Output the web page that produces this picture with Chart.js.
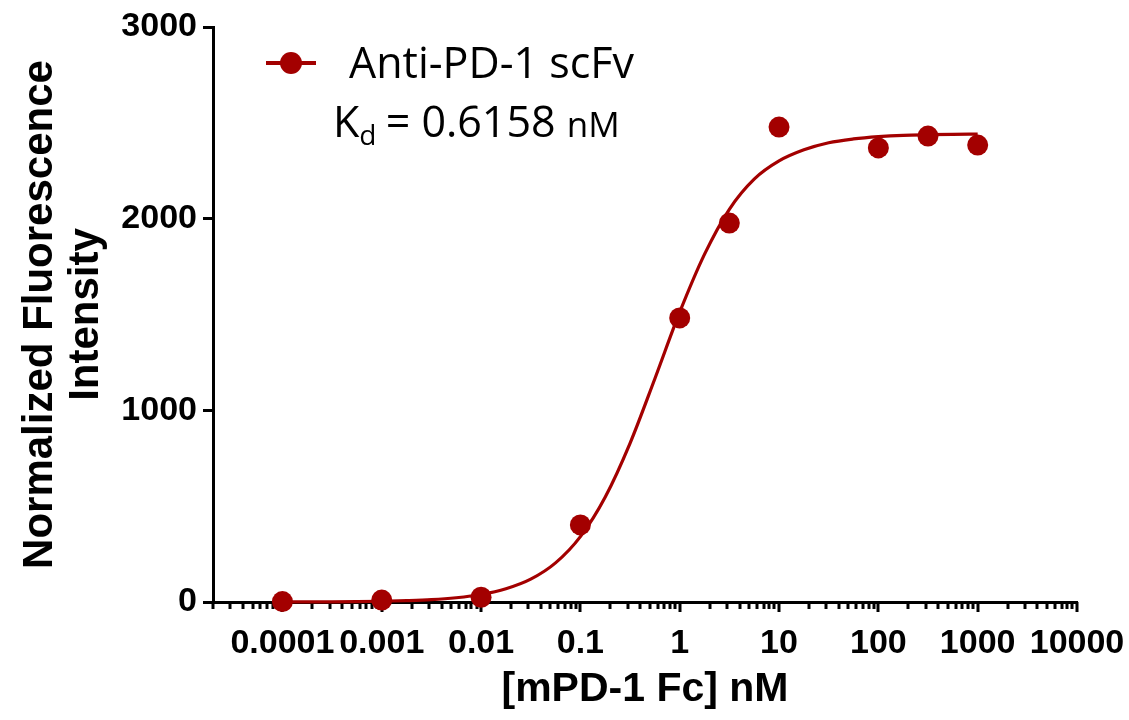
<!DOCTYPE html>
<html><head><meta charset="utf-8">
<script src="https://cdn.jsdelivr.net/npm/chart.js@4.4.1/dist/chart.umd.min.js"></script>
<style>html,body{margin:0;padding:0;background:#fff;}#wrap{width:1129px;height:720px;}</style>
</head><body><div id="wrap"><canvas id="c" width="1129" height="720"></canvas></div>
<script>
// ---- data ----
const seriesName = 'Anti-PD-1 scFv';
const concentrations = [0.0001, 0.001, 0.01, 0.1, 1, 3.16, 10, 100, 316, 1000];
const intensities    = [2, 10, 25, 402, 1482, 1977, 2478, 2369, 2431, 2384];
const fitConcentrations = [0.0001, 0.000178, 0.000316, 0.000562, 0.001, 0.00178, 0.00316, 0.00562,
  0.01, 0.0178, 0.0316, 0.0562, 0.1, 0.178, 0.316, 0.562, 1, 1.78, 3.16, 5.62,
  10, 17.8, 31.6, 56.2, 100, 178, 316, 562, 1000];
const fitIntensities = [0, 1, 1, 2, 4, 7, 12, 22,
  39, 69, 119, 204, 341, 548, 828, 1165, 1512, 1815, 2049, 2206,
  2301, 2359, 2396, 2416, 2428, 2435, 2438, 2440, 2441];
const xTickValues = [0.0001, 0.001, 0.01, 0.1, 1, 10, 100, 1000, 10000];
const xTickLabels = ['0.0001', '0.001', '0.01', '0.1', '1', '10', '100', '1000', '10000'];
const yTickValues = [0, 1000, 2000, 3000];
const yTickLabels = ['0', '1000', '2000', '3000'];
const xTitle = '[mPD-1 Fc] nM';
const yTitle = ['Normalized Fluorescence', 'Intensity'];
const kdSymbol = 'K', kdSub = 'd', kdValue = ' = 0.6158 ', kdUnit = 'nM';
const xMin = 0.00002, xMax = 10000, yMin = 0, yMax = 3000;

const RED = '#A30000';
const BOLD = '"Liberation Sans", Arial, sans-serif';
const REG = '"Open Sans", "Liberation Sans", sans-serif';

const minorTicks = {
  id: 'minorTicks',
  beforeDatasetsDraw(chart) {
    const ctx = chart.ctx, xs = chart.scales.x, y0 = xs.top;
    ctx.save();
    ctx.strokeStyle = '#000';
    for (let e = -5; e <= 4; e++) {
      for (let k = 1; k <= 9; k++) {
        const v = k * Math.pow(10, e);
        if (v < xMin * 0.999 || v > xMax * 1.001) continue;
        const px = Math.round(xs.getPixelForValue(v));
        const major = k === 1;
        ctx.lineWidth = 3;
        ctx.beginPath();
        ctx.moveTo(px, y0);
        ctx.lineTo(px, y0 + (major ? 10 : 7));
        ctx.stroke();
      }
    }
    ctx.restore();
  }
};

const legendAndKd = {
  id: 'legendAndKd',
  afterDraw(chart) {
    const ctx = chart.ctx;
    const ds = chart.data.datasets[0];
    ctx.save();
    ctx.strokeStyle = ds.backgroundColor; ctx.lineWidth = 4;
    ctx.beginPath(); ctx.moveTo(266, 63); ctx.lineTo(316, 63); ctx.stroke();
    ctx.fillStyle = ds.backgroundColor;
    ctx.beginPath(); ctx.arc(291, 63, 11, 0, Math.PI * 2); ctx.fill();
    ctx.fillStyle = '#000';
    ctx.textBaseline = 'alphabetic';
    ctx.font = '43px ' + REG;
    ctx.fillText(ds.label, 349, 78);
    let x = 333; const base = 137;
    ctx.font = '43px ' + REG;
    ctx.fillText(kdSymbol, x, base); x += ctx.measureText(kdSymbol).width;
    ctx.font = '28px ' + REG;
    ctx.fillText(kdSub, x, base + 8); x += ctx.measureText(kdSub).width - 2;
    ctx.font = '43px ' + REG;
    ctx.fillText(kdValue, x, base); x += ctx.measureText(kdValue).width;
    ctx.font = '35px ' + REG;
    ctx.fillText(kdUnit, x, base);
    ctx.restore();
  }
};

new Chart(document.getElementById('c'), {
  data: {
    datasets: [
      {
        type: 'scatter', label: seriesName,
        data: concentrations.map((c, i) => ({x: c, y: intensities[i]})),
        backgroundColor: RED, borderColor: RED, pointRadius: 10.5, borderWidth: 0,
        pointHoverRadius: 10.5, showLine: false, clip: false
      },
      {
        type: 'line', label: 'fit',
        data: fitConcentrations.map((c, i) => ({x: c, y: fitIntensities[i]})),
        borderColor: RED, borderWidth: 3.2, pointRadius: 0, fill: false,
        cubicInterpolationMode: 'monotone', clip: false
      }
    ]
  },
  options: {
    responsive: false, animation: false, devicePixelRatio: 1,
    layout: {padding: {left: 0, top: 27, right: 52, bottom: 0}},
    plugins: {legend: {display: false}, tooltip: {enabled: false}},
    scales: {
      x: {
        type: 'logarithmic', min: xMin, max: xMax, position: 'bottom',
        afterBuildTicks: s => { s.ticks = xTickValues.map(v => ({value: v})); },
        afterFit: s => { s.height = 118; s.paddingLeft = 0; s.paddingRight = 0; },
        grid: {display: false, drawTicks: false},
        border: {display: true, color: '#000', width: 3},
        ticks: {
          autoSkip: false, maxRotation: 0, minRotation: 0, padding: 21, color: '#000',
          font: {family: BOLD, size: 34, weight: 'bold'},
          callback: v => { const i = xTickValues.indexOf(v); return i >= 0 ? xTickLabels[i] : ''; }
        },
        title: {display: true, text: xTitle, color: '#000', font: {family: BOLD, size: 41, weight: 'bold'},
          padding: {top: 0, bottom: 6}}
      },
      y: {
        type: 'linear', min: yMin, max: yMax, position: 'left',
        afterBuildTicks: s => { s.ticks = yTickValues.map(v => ({value: v})); },
        afterFit: s => { s.width = 213; s.paddingTop = 0; s.paddingBottom = 0; },
        grid: {display: true, drawOnChartArea: false, drawTicks: true, tickLength: 10, tickWidth: 3, tickColor: '#000', color: '#000'},
        border: {display: true, color: '#000', width: 3},
        ticks: {
          padding: 6, color: '#000', font: {family: BOLD, size: 34, weight: 'bold'},
          callback: v => { const i = yTickValues.indexOf(v); return i >= 0 ? yTickLabels[i] : ''; }
        },
        title: {display: true, text: yTitle, color: '#000', font: {family: BOLD, size: 42, weight: 'bold', lineHeight: 1.1},
          padding: {top: 17, bottom: 0}}
      }
    }
  },
  plugins: [minorTicks, legendAndKd]
});
</script></body></html>
